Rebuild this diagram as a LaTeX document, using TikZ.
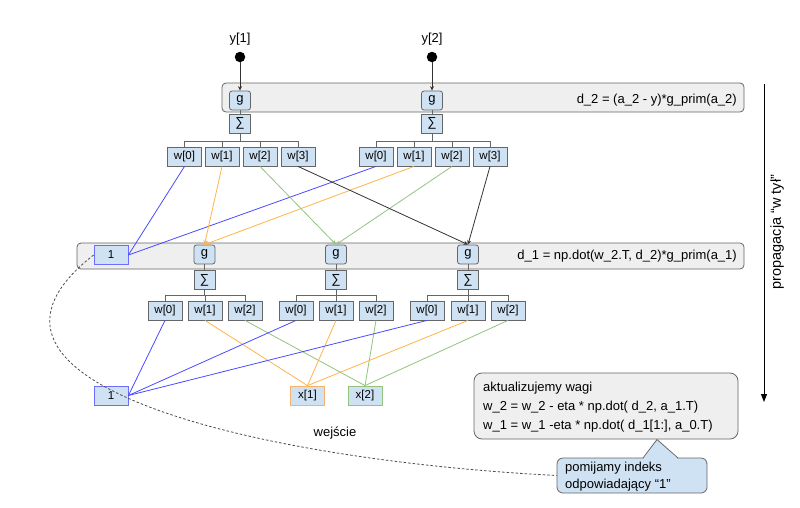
\documentclass[tikz,border=0pt]{standalone}
\usepackage{fontspec}
\setmainfont{Liberation Sans}
\usetikzlibrary{arrows.meta}
\definecolor{boxc}{HTML}{CFE2F3}
\definecolor{bordc}{HTML}{666666}
\definecolor{layc}{HTML}{EFEFEF}
\definecolor{bluec}{HTML}{4A4AFF}
\definecolor{orangec}{HTML}{FFB447}
\definecolor{greenc}{HTML}{93C47D}
\definecolor{darkc}{HTML}{333333}
\definecolor{obord}{HTML}{F6B26B}
\definecolor{bbord}{HTML}{6D6DFF}
\begin{document}
\begin{tikzpicture}[x=1pt,y=-1pt,
  base/.style={draw=bordc, fill=boxc, inner sep=0pt, line width=0.8pt, font=\fontsize{11.5}{13}\selectfont},
  wbox/.style={base, minimum width=34pt, minimum height=19pt},
  gbox/.style={base, minimum width=21pt, minimum height=19pt, rounded corners=2.5pt, font=\fontsize{13}{15}\selectfont},
  sbox/.style={base, minimum width=21pt, minimum height=19pt, font=\fontsize{13}{15}\selectfont},
  layer/.style={draw=bordc, fill=layc, rounded corners=4pt, line width=0.8pt, inner sep=0pt},
  bus/.style={draw=bordc, line width=0.8pt},
  edge/.style={line width=0.8pt},
  arr/.style={-{Stealth[length=4.5pt,width=4pt]}},
  lbl/.style={inner sep=0pt, font=\fontsize{13}{15}\selectfont},
  dot/.style={circle, fill=black, minimum size=10.5pt, inner sep=0pt}
]
\useasboundingbox (0,0) rectangle (800,507);
\fill[white] (0,0) rectangle (800,507);

% layer boxes
\node[layer, minimum width=522pt, minimum height=29pt] (L2) at (483,97.5) {};
\node[layer, minimum width=667pt, minimum height=26pt] (L1) at (410.5,256) {};
\node[lbl, anchor=east] (d2t) at (737,100) {d\_2 = (a\_2 - y)*g\_prim(a\_2)};
\node[lbl, anchor=east] (d1t) at (737,256.5) {d\_1 = np.dot(w\_2.T, d\_2)*g\_prim(a\_1)};

% outputs
\node[lbl] (y1) at (240,39) {y[1]};
\node[lbl] (y2) at (432,39) {y[2]};
\node[dot] (p1) at (240,57) {};
\node[dot] (p2) at (432,57) {};

% top layer neurons
\node[gbox] (tg1) at (240,100.5) {g};
\node[sbox] (ts1) at (240,123.5) {∑};
\node[gbox] (tg2) at (432,100.5) {g};
\node[sbox] (ts2) at (432,123.5) {∑};
\draw[bus] (tg1) -- (ts1);
\draw[bus] (tg2) -- (ts2);
\draw[edge, arr, darkc] (p1) -- (tg1.north);
\draw[edge, arr, darkc] (p2) -- (tg2.north);

\foreach \i/\x in {0/184.5,1/222,2/260,3/298}{
  \node[wbox] (ta\i) at (\x,156.5) {w[\i]};
}
\foreach \i/\x in {0/376,1/414,2/452,3/490}{
  \node[wbox] (tb\i) at (\x,156.5) {w[\i]};
}
\coordinate (tbus1) at (240,141);
\coordinate (tbus2) at (432,141);
\draw[bus] (ts1.south) -- (tbus1);
\draw[bus] (ts2.south) -- (tbus2);
\foreach \i in {0,...,3}{
  \draw[bus] (ta\i.north) |- (tbus1);
  \draw[bus] (tb\i.north) |- (tbus2);
}

% hidden layer
\node[wbox, draw=bbord] (h1) at (111,255) {1};
\node[gbox] (mg1) at (204.5,254.5) {g};
\node[sbox] (ms1) at (204.5,280) {∑};
\node[gbox] (mg2) at (336,254.5) {g};
\node[sbox] (ms2) at (336,280) {∑};
\node[gbox] (mg3) at (468,254.5) {g};
\node[sbox] (ms3) at (468,280) {∑};
\draw[bus] (mg1) -- (ms1);
\draw[bus] (mg2) -- (ms2);
\draw[bus] (mg3) -- (ms3);

% top -> hidden connections
\draw[edge, bluec] (ta0.south) -- (h1.east);
\draw[edge, bluec] (tb0.south) -- (h1.east);
\draw[edge, arr, orangec] (ta1.south) -- (mg1.north);
\draw[edge, arr, orangec] (tb1.south) -- (mg1.north);
\draw[edge, arr, greenc] (ta2.south) -- (mg2.north);
\draw[edge, arr, greenc] (tb2.south) -- (mg2.north);
\draw[edge, arr, darkc] (ta3.south) -- (mg3.north);
\draw[edge, arr, darkc] (tb3.south) -- (mg3.north);

% hidden weights
\foreach \g/\xa/\xb/\xc/\xm in {1/165/205/245/204.5, 2/296/336/376/336, 3/427/468/508/468}{
  \node[wbox] (m\g w0) at (\xa,310.5) {w[0]};
  \node[wbox] (m\g w1) at (\xb,310.5) {w[1]};
  \node[wbox] (m\g w2) at (\xc,310.5) {w[2]};
  \coordinate (mbus\g) at (\xm,295);
  \draw[bus] (ms\g.south) -- (mbus\g);
  \draw[bus] (m\g w0.north) |- (mbus\g);
  \draw[bus] (m\g w1.north) |- (mbus\g);
  \draw[bus] (m\g w2.north) |- (mbus\g);
}

% inputs
\node[wbox, draw=bbord] (b1) at (111,395.5) {1};
\node[wbox, draw=obord] (x1) at (307.5,395.5) {x[1]};
\node[wbox, draw=greenc] (x2) at (365,395.5) {x[2]};
\node[lbl] (wej) at (335,433) {wejście};

\foreach \g in {1,2,3}{
  \draw[edge, bluec] (m\g w0.south) -- (b1.east);
  \draw[edge, orangec] (m\g w1.south) -- (x1.north);
  \draw[edge, greenc] (m\g w2.south) -- (x2.north);
}

% update callout
\node[layer, rounded corners=8pt, minimum width=264pt, minimum height=66pt] (upd) at (606,406) {};
\node[lbl, anchor=west, align=left, font=\fontsize{13}{19}\selectfont] (updt) at (483,407.5)
  {aktualizujemy wagi\\w\_2 = w\_2 - eta * np.dot( d\_2, a\_1.T)\\w\_1 = w\_1 -eta * np.dot( d\_1[1:], a\_0.T)};

% note callout
\node[base, rounded corners=6pt, minimum width=150pt, minimum height=35pt] (note) at (632,475.5) {};
\fill[boxc] (643,459.3) -- (657,439.5) -- (678,459.3) -- cycle;
\draw[bordc, line width=0.8pt, line join=round] (643,458) -- (657,439.5) -- (678,458);
\node[lbl, anchor=west, align=left, font=\fontsize{13}{17}\selectfont] (notet) at (565,476.5)
  {pomijamy indeks\\odpowiadający “1”};

% dashed link
\draw[dash pattern=on 2.5pt off 2pt, black!70, line width=0.8pt] (h1.west) .. controls (-70,383) and (255,460) .. (note.west);

% propagation arrow
\coordinate (pa) at (764,84);
\coordinate (pb) at (764,402);
\draw[line width=1pt, -{Triangle[length=8pt,width=6pt]}] (pa) -- (pb);
\node[lbl, rotate=90, font=\fontsize{14.5}{17}\selectfont] (prop) at (777,232) {propagacja “w tył”};
\end{tikzpicture}
\end{document}
